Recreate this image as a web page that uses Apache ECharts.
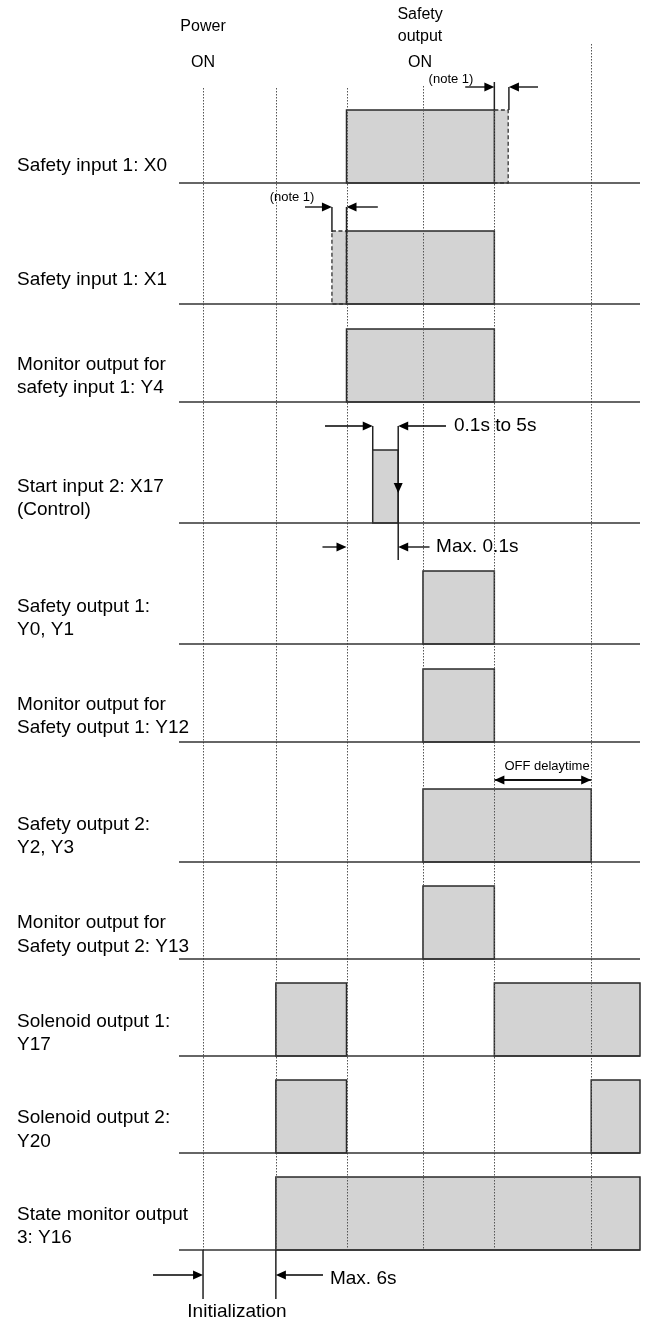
<!DOCTYPE html>
<html><head><meta charset="utf-8">
<script src="https://cdn.jsdelivr.net/npm/echarts@6/dist/echarts.min.js"></script>
<style>html,body{margin:0;padding:0;background:#fff}#c{width:652px;height:1322px}</style>
</head><body><div id="c"></div>
<script>
// ---------------- DATA ----------------
// signal names (one entry per row, possibly two text lines)
const signalNames = [
  ['Safety input 1: X0'],
  ['Safety input 1: X1'],
  ['Monitor output for', 'safety input 1: Y4'],
  ['Start input 2: X17', '(Control)'],
  ['Safety output 1:', 'Y0, Y1'],
  ['Monitor output for', 'Safety output 1: Y12'],
  ['Safety output 2:', 'Y2, Y3'],
  ['Monitor output for', 'Safety output 2: Y13'],
  ['Solenoid output 1:', 'Y17'],
  ['Solenoid output 2:', 'Y20'],
  ['State monitor output', '3: Y16']
];
// time axis extent (relative time units; power ON = 0)
const timeRange = [-0.33, 6.0];
// event instants shown as dotted vertical markers
const eventTimes = [0, 1, 1.97, 3.02, 4.0, 5.33];
// ON intervals: [row, start, end]
const onIntervals = [
  [0, 1.97, 4.0], [1, 1.97, 4.0], [2, 1.97, 4.0], [3, 2.33, 2.68],
  [4, 3.02, 4.0], [5, 3.02, 4.0], [6, 3.02, 5.33], [7, 3.02, 4.0],
  [8, 1.0, 1.97], [8, 4.0, 6.0],
  [9, 1.0, 1.97], [9, 5.33, 6.0],
  [10, 1.0, 6.0]
];
// tolerance intervals (dashed): [row, start, end]
const toleranceIntervals = [[0, 4.0, 4.19], [1, 1.77, 1.97]];
// annotation texts: [text, time]
const headerTexts = [['Power', 0], ['ON', 0], ['Safety', 2.98], ['output', 2.98], ['ON', 2.98]];
const noteTexts = [['(note 1)', 3.405], ['(note 1)', 1.222]];
const timingTexts = [['0.1s to 5s', 3.446], ['Max. 0.1s', 3.20], ['OFF delaytime', 4.723], ['Max. 6s', 1.743], ['Initialization', 0.466]];
// arrows: [tail time, head time]
const arrowTimes = [
  [3.60, 4.0], [4.60, 4.20],
  [1.40, 1.77], [2.40, 1.97],
  [1.675, 2.33], [3.336, 2.68],
  [1.64, 1.97], [3.11, 2.68],
  [4.0, 5.33], [5.33, 4.0],
  [-0.687, 0], [1.647, 1]
];
// solid vertical reference lines: time
const connectorTimes = [4.0, 4.20, 1.77, 1.97, 2.33, 2.68, 0, 1];

// ---------------- LAYOUT (vertical placement, px) ----------------
const rowBase = [183, 304, 402, 523, 644, 742, 862, 959, 1056, 1153, 1250];
const pulseH = 73;
const labelDy = [[-17], [-24], [-37, -14], [-36, -13], [-37, -14], [-37, -14], [-37, -14], [-36, -12], [-34, -11], [-35, -11], [-35, -12]];
const headerY = [27, 63, 15, 37, 63];
const noteY = [79, 197];
const timingY = [426, 547, 766, 1279, 1312];
const timingAlign = ['left', 'left', 'center', 'left', 'center'];
const timingSize = [19, 19, 13, 19, 19];
const arrowY = [87, 87, 207, 207, 426, 426, 547, 547, 780, 780, 1275, 1275];
const connectorY = [[82, 110], [87, 110], [207, 232], [207, 232], [426, 450], [426, 560], [1250, 1299], [1250, 1299]];
const dottedTop = [88, 88, 88, 86, 88, 44];
const dottedBottom = 1250;

const FONT = '"Liberation Sans", Arial, Helvetica, sans-serif';
const LINE = '#333333';

const chart = echarts.init(document.getElementById('c'), null, {renderer: 'canvas'});

function arrowHead(tip, dir, len, hw) {
  if (dir === 'down') {
    return {type: 'polygon', shape: {points: [[tip[0], tip[1]], [tip[0] - hw, tip[1] - len], [tip[0] + hw, tip[1] - len]]}, style: {fill: '#000'}};
  }
  return {type: 'polygon', shape: {points: [[tip[0], tip[1]], [tip[0] - dir * len, tip[1] - hw], [tip[0] - dir * len, tip[1] + hw]]}, style: {fill: '#000'}};
}

const option = {
  animation: false,
  backgroundColor: '#ffffff',
  grid: {left: 179, right: 12, top: 0, bottom: 0},
  xAxis: {type: 'value', min: timeRange[0], max: timeRange[1], show: false},
  yAxis: {type: 'value', min: 0, max: 1322, inverse: true, show: false},
  series: [
    { // tolerance (dashed) pulses
      type: 'custom', z: 1, silent: true, clip: false,
      encode: {x: [1, 2]},
      data: toleranceIntervals,
      renderItem: function (params, api) {
        const base = rowBase[api.value(0)];
        const a = api.coord([api.value(1), base - pulseH]);
        const b = api.coord([api.value(2), base]);
        return {type: 'rect', shape: {x: a[0], y: a[1], width: b[0] - a[0], height: b[1] - a[1]},
          style: {fill: '#d3d3d3', stroke: '#333', lineWidth: 1.3, lineDash: [4, 2.5]}};
      }
    },
    { // ON pulses
      type: 'custom', z: 2, silent: true, clip: false,
      encode: {x: [1, 2]},
      data: onIntervals,
      renderItem: function (params, api) {
        const base = rowBase[api.value(0)];
        const a = api.coord([api.value(1), base - pulseH]);
        const b = api.coord([api.value(2), base]);
        return {type: 'rect', shape: {x: a[0], y: a[1], width: b[0] - a[0], height: b[1] - a[1]},
          style: {fill: '#d3d3d3', stroke: '#2a2a2a', lineWidth: 1.5}};
      }
    },
    { // dotted event markers
      type: 'custom', z: 3, silent: true, clip: false,
      encode: {x: 0},
      data: eventTimes.map(function (t, i) { return [t, i]; }),
      renderItem: function (params, api) {
        const i = api.value(1);
        const a = api.coord([api.value(0), dottedTop[i]]);
        const b = api.coord([api.value(0), dottedBottom]);
        return {type: 'line', shape: {x1: Math.round(a[0]) + 0.5, y1: a[1], x2: Math.round(b[0]) + 0.5, y2: b[1]},
          style: {stroke: '#555', lineWidth: 1, lineDash: [1.5, 1.5]}};
      }
    },
    { // baselines + labels
      type: 'custom', z: 4, silent: true, clip: false,
      encode: {x: 0},
      data: signalNames.map(function (n, i) { return [timeRange[0], i]; }),
      renderItem: function (params, api) {
        const i = api.value(1);
        const base = rowBase[i];
        const a = api.coord([timeRange[0], base]);
        const b = api.coord([timeRange[1], base]);
        const children = [{type: 'line', shape: {x1: a[0], y1: base, x2: b[0], y2: base}, style: {stroke: LINE, lineWidth: 1.6}}];
        signalNames[i].forEach(function (txt, k) {
          children.push({type: 'text', x: 17, y: base + labelDy[i][k],
            style: {text: txt, font: '19px ' + FONT, fill: '#000', align: 'left', verticalAlign: 'middle'}});
        });
        return {type: 'group', children: children};
      }
    },
    { // solid connectors
      type: 'custom', z: 5, silent: true, clip: false,
      encode: {x: 0},
      data: connectorTimes.map(function (t, i) { return [t, i]; }),
      renderItem: function (params, api) {
        const i = api.value(1);
        const a = api.coord([api.value(0), connectorY[i][0]]);
        const b = api.coord([api.value(0), connectorY[i][1]]);
        return {type: 'line', shape: {x1: a[0], y1: a[1], x2: b[0], y2: b[1]}, style: {stroke: '#222', lineWidth: 1.5}};
      }
    },
    { // arrows
      type: 'custom', z: 6, silent: true, clip: false,
      encode: {x: [0, 1]},
      data: arrowTimes.map(function (a, i) { return [a[0], a[1], i]; }),
      renderItem: function (params, api) {
        const i = api.value(2);
        const y = arrowY[i];
        const tail = api.coord([api.value(0), y]);
        const head = api.coord([api.value(1), y]);
        const dir = head[0] > tail[0] ? 1 : -1;
        return {type: 'group', children: [
          {type: 'line', shape: {x1: tail[0], y1: y, x2: head[0] - dir * 8, y2: y}, style: {stroke: '#000', lineWidth: 1.3}},
          arrowHead(head, dir, 10, 4.5)
        ]};
      }
    },
    { // down arrowhead on start input falling edge
      type: 'custom', z: 6, silent: true, clip: false,
      encode: {x: 0},
      data: [[2.68]],
      renderItem: function (params, api) {
        const p = api.coord([api.value(0), 493]);
        return arrowHead(p, 'down', 10, 4.5);
      }
    },
    { // header texts
      type: 'custom', z: 7, silent: true, clip: false,
      encode: {x: 1},
      data: headerTexts.map(function (h, i) { return [i, h[1]]; }),
      renderItem: function (params, api) {
        const i = api.value(0);
        const p = api.coord([api.value(1), headerY[i]]);
        return {type: 'text', x: p[0], y: p[1],
          style: {text: headerTexts[i][0], font: '16px ' + FONT, fill: '#000', align: 'center', verticalAlign: 'middle'}};
      }
    },
    { // note texts
      type: 'custom', z: 7, silent: true, clip: false,
      encode: {x: 1},
      data: noteTexts.map(function (h, i) { return [i, h[1]]; }),
      renderItem: function (params, api) {
        const i = api.value(0);
        const p = api.coord([api.value(1), noteY[i]]);
        return {type: 'text', x: p[0], y: p[1],
          style: {text: noteTexts[i][0], font: '13px ' + FONT, fill: '#000', align: 'center', verticalAlign: 'middle'}};
      }
    },
    { // timing texts
      type: 'custom', z: 7, silent: true, clip: false,
      encode: {x: 1},
      data: timingTexts.map(function (h, i) { return [i, h[1]]; }),
      renderItem: function (params, api) {
        const i = api.value(0);
        const p = api.coord([api.value(1), timingY[i]]);
        return {type: 'text', x: p[0], y: p[1],
          style: {text: timingTexts[i][0], font: timingSize[i] + 'px ' + FONT, fill: '#000', align: timingAlign[i], verticalAlign: 'middle'}};
      }
    }
  ]
};
chart.setOption(option);
</script>
</body></html>
